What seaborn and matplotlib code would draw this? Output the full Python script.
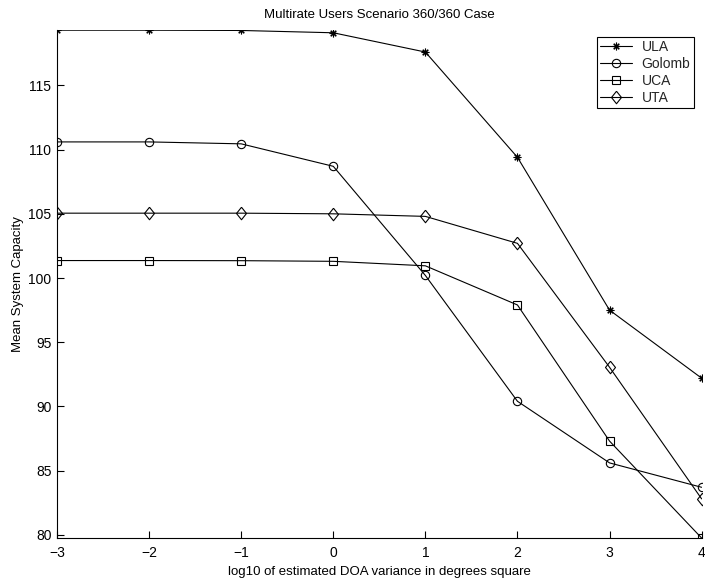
import matplotlib
matplotlib.use("Agg")
import matplotlib.pyplot as plt
import seaborn as sns
import pandas as pd

# log10 of the estimated DOA variance (degrees squared)
log_variance = [-3, -2, -1, 0, 1, 2, 3, 4]

# Mean system capacity per array geometry
ula = [119.3, 119.3, 119.28, 119.1, 117.6, 109.4, 97.5, 92.2]
golomb = [110.6, 110.6, 110.45, 108.7, 100.2, 90.4, 85.6, 83.7]
uca = [101.36, 101.36, 101.35, 101.3, 100.95, 97.9, 87.3, 79.75]
uta = [105.05, 105.05, 105.05, 105.0, 104.8, 102.7, 93.05, 82.8]

series_names = ["ULA", "Golomb", "UCA", "UTA"]
series_values = [ula, golomb, uca, uta]

# asterisk (+ and x combined), open circle, open square, slightly narrow diamond
diamond = [(0, 1), (0.8, 0), (0, -1), (-0.8, 0), (0, 1)]
series_markers = [(8, 2, 0), "o", "s", diamond]
marker_sizes = [5.5, 6, 5.8, 9]

x_ticks = [-3, -2, -1, 0, 1, 2, 3, 4]
y_ticks = [80, 85, 90, 95, 100, 105, 110, 115]

sns.set_theme(style="white")
plt.rcParams["font.family"] = ["Liberation Sans", "DejaVu Sans"]
plt.rcParams["axes.unicode_minus"] = True

fig = plt.figure(figsize=(7.05, 5.81), dpi=100)
ax = fig.add_axes([0.0809, 0.074, 0.9143, 0.874])

for name, vals, mk, ms in zip(series_names, series_values, series_markers, marker_sizes):
    df = pd.DataFrame({"x": log_variance, "y": vals})
    sns.lineplot(data=df, x="x", y="y", ax=ax, color="black", linewidth=0.8,
                 marker=mk, markersize=ms, markerfacecolor="none",
                 markeredgecolor="black", markeredgewidth=0.8, label=name)

all_vals = [v for s in series_values for v in s]
ax.set_xlim(min(log_variance), max(log_variance))
ax.set_ylim(min(all_vals), max(all_vals))
ax.set_xticks(x_ticks)
ax.set_yticks(y_ticks)

for side in ("top", "right"):
    ax.spines[side].set_visible(False)
for side in ("left", "bottom"):
    ax.spines[side].set_color("black")
    ax.spines[side].set_linewidth(0.8)

ax.tick_params(axis="both", direction="in", length=5, width=0.8, colors="black",
               labelsize=10, left=True, bottom=True)
ax.tick_params(axis="x", pad=6)
ax.tick_params(axis="y", pad=4)

ax.set_title("Multirate Users Scenario 360/360 Case", fontsize=9.5, color="black", pad=9)
ax.set_xlabel("log10 of estimated DOA variance in degrees square", fontsize=9.5,
              color="black", labelpad=4)
ax.set_ylabel("Mean System Capacity", fontsize=9.5, color="black", labelpad=3)

leg = ax.legend(loc="upper right", bbox_to_anchor=(0.988, 0.987), fontsize=10,
                fancybox=False, framealpha=1, edgecolor="black", handlelength=2.3,
                handletextpad=0.7, borderpad=0.25, labelspacing=0.2, borderaxespad=0)
leg.get_frame().set_linewidth(0.8)

fig.savefig("out.png", dpi=100)
